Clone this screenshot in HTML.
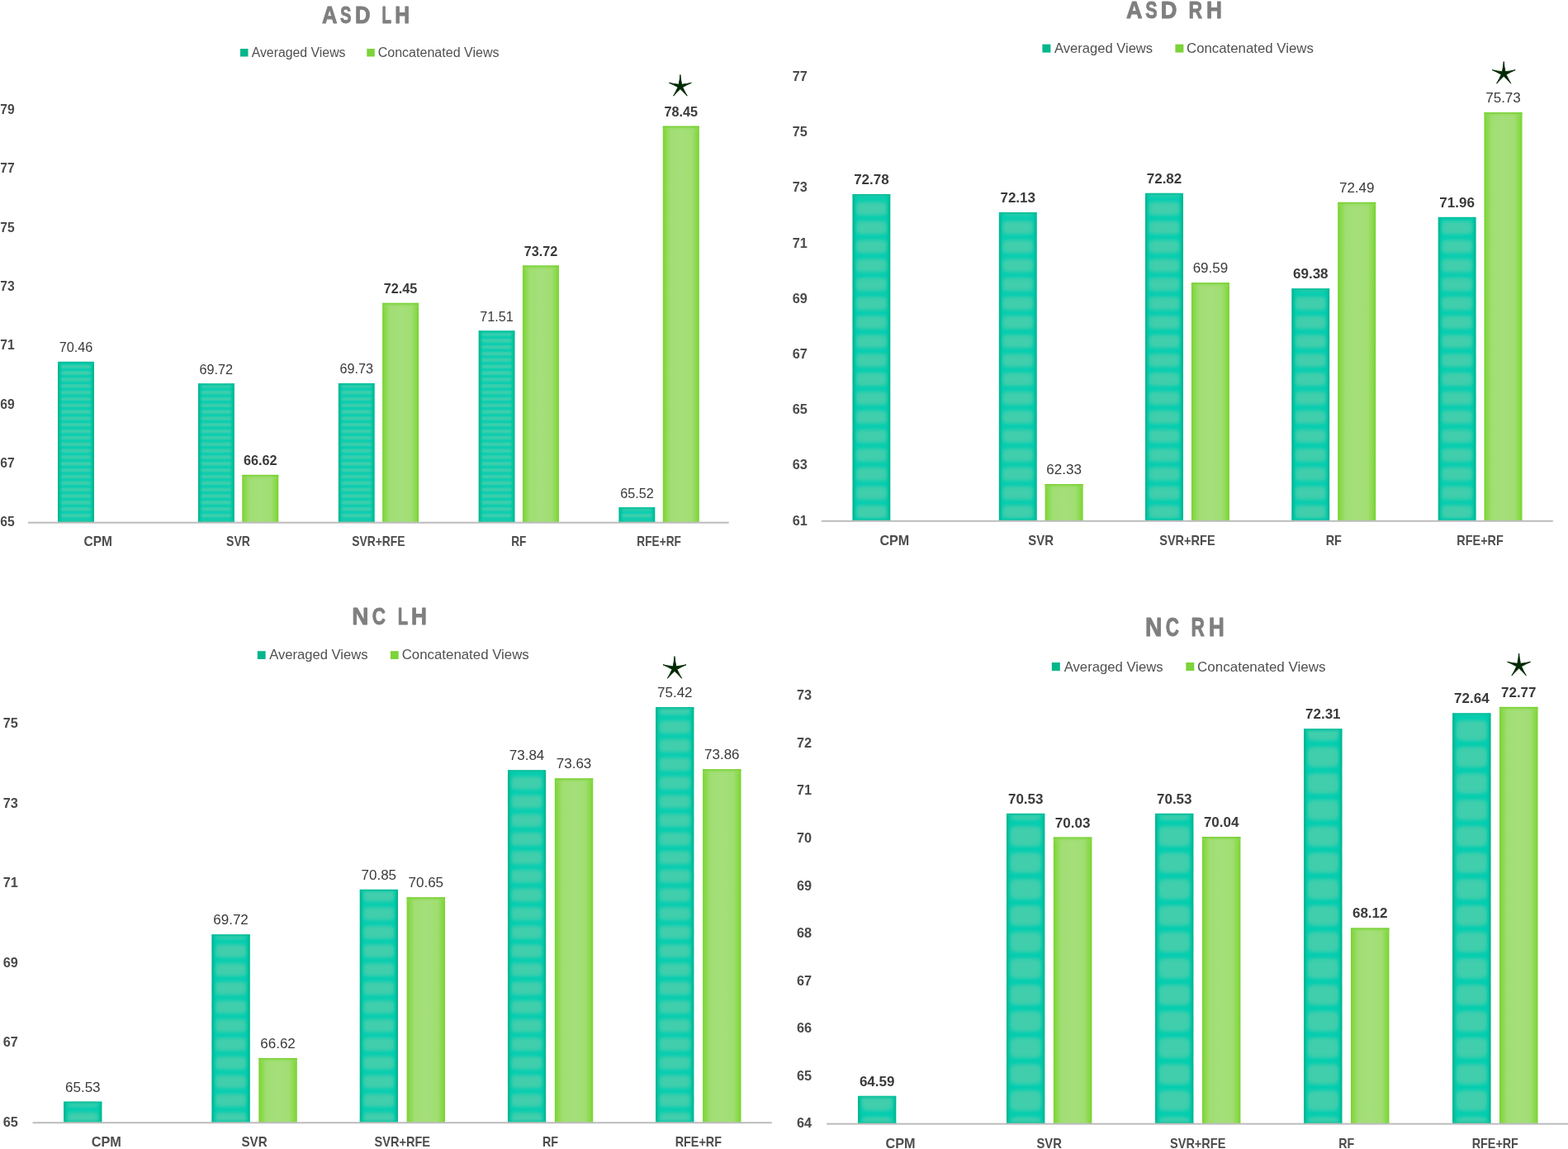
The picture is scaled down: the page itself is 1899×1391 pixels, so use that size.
<!DOCTYPE html>
<html><head><meta charset="utf-8"><title>Charts</title>
<style>
html,body{margin:0;padding:0;background:#fff;}
svg{display:block;}
text{font-family:"Liberation Sans", sans-serif;}
</style></head>
<body>
<svg width="1899" height="1391" viewBox="0 0 1899 1391">
<defs>
<linearGradient id="tedge" x1="0" y1="0" x2="1" y2="0">
 <stop offset="0" stop-color="#00b08a" stop-opacity="1"/>
 <stop offset="0.035" stop-color="#00b891" stop-opacity="0.9"/>
 <stop offset="0.08" stop-color="#00c3a2" stop-opacity="0.5"/>
 <stop offset="0.14" stop-color="#00cdb0" stop-opacity="0"/>
 <stop offset="0.86" stop-color="#00cdb0" stop-opacity="0"/>
 <stop offset="0.92" stop-color="#00c3a2" stop-opacity="0.5"/>
 <stop offset="0.965" stop-color="#00b891" stop-opacity="0.9"/>
 <stop offset="1" stop-color="#00b08a" stop-opacity="1"/>
</linearGradient>
<linearGradient id="tedgev" x1="0" y1="0" x2="0" y2="1">
 <stop offset="0" stop-color="#00b48e" stop-opacity="0.95"/>
 <stop offset="0.4" stop-color="#00c2a0" stop-opacity="0.5"/>
 <stop offset="1" stop-color="#00cdb0" stop-opacity="0"/>
</linearGradient>
<linearGradient id="tedgeb" x1="0" y1="1" x2="0" y2="0">
 <stop offset="0" stop-color="#00b48e" stop-opacity="0.9"/>
 <stop offset="0.4" stop-color="#00c2a0" stop-opacity="0.45"/>
 <stop offset="1" stop-color="#00cdb0" stop-opacity="0"/>
</linearGradient>
<linearGradient id="gfill" x1="0" y1="0" x2="1" y2="0">
 <stop offset="0" stop-color="#76d22e"/>
 <stop offset="0.06" stop-color="#86d845"/>
 <stop offset="0.2" stop-color="#a0de72"/>
 <stop offset="0.5" stop-color="#a5df7b"/>
 <stop offset="0.8" stop-color="#a0de72"/>
 <stop offset="0.94" stop-color="#86d845"/>
 <stop offset="1" stop-color="#76d22e"/>
</linearGradient>
<linearGradient id="gedgev" x1="0" y1="0" x2="0" y2="1">
 <stop offset="0" stop-color="#6ccc20" stop-opacity="0.9"/>
 <stop offset="0.4" stop-color="#8ad84c" stop-opacity="0.5"/>
 <stop offset="1" stop-color="#a4df79" stop-opacity="0"/>
</linearGradient>
<filter id="bl_c1" x="-20%" y="-20%" width="140%" height="140%"><feGaussianBlur stdDeviation="1.6 0.95"/></filter>
<clipPath id="cb_c1_0"><rect x="70" y="437.83" width="44" height="194.87"/></clipPath>
<clipPath id="cb_c1_1"><rect x="239.85" y="464.24" width="44" height="168.46"/></clipPath>
<clipPath id="cb_c1_2"><rect x="409.7" y="463.89" width="44" height="168.81"/></clipPath>
<clipPath id="cb_c1_3"><rect x="579.55" y="400.36" width="44" height="232.34"/></clipPath>
<clipPath id="cb_c1_4"><rect x="749.4" y="614.14" width="44" height="18.56"/></clipPath>
<filter id="bl_c2" x="-20%" y="-20%" width="140%" height="140%"><feGaussianBlur stdDeviation="3 1.9"/></filter>
<clipPath id="cb_c2_0"><rect x="1032.4" y="235.11" width="46" height="395.69"/></clipPath>
<clipPath id="cb_c2_1"><rect x="1209.7" y="256.94" width="46" height="373.86"/></clipPath>
<clipPath id="cb_c2_2"><rect x="1387" y="233.77" width="46" height="397.03"/></clipPath>
<clipPath id="cb_c2_3"><rect x="1564.3" y="349.32" width="46" height="281.48"/></clipPath>
<clipPath id="cb_c2_4"><rect x="1741.6" y="262.65" width="46" height="368.15"/></clipPath>
<filter id="bl_c3" x="-20%" y="-20%" width="140%" height="140%"><feGaussianBlur stdDeviation="3 1.9"/></filter>
<clipPath id="cb_c3_0"><rect x="77.1" y="1333.6" width="46.4" height="25.6"/></clipPath>
<clipPath id="cb_c3_1"><rect x="256.35" y="1131.22" width="46.4" height="227.98"/></clipPath>
<clipPath id="cb_c3_2"><rect x="435.6" y="1076.65" width="46.4" height="282.55"/></clipPath>
<clipPath id="cb_c3_3"><rect x="614.85" y="932.23" width="46.4" height="426.97"/></clipPath>
<clipPath id="cb_c3_4"><rect x="794.1" y="855.91" width="46.4" height="503.29"/></clipPath>
<filter id="bl_c4" x="-20%" y="-20%" width="140%" height="140%"><feGaussianBlur stdDeviation="3.2 2.2"/></filter>
<clipPath id="cb_c4_0"><rect x="1038.9" y="1326.65" width="46.5" height="33.95"/></clipPath>
<clipPath id="cb_c4_1"><rect x="1218.95" y="984.8" width="46.5" height="375.8"/></clipPath>
<clipPath id="cb_c4_2"><rect x="1399" y="984.8" width="46.5" height="375.8"/></clipPath>
<clipPath id="cb_c4_3"><rect x="1579.05" y="882.36" width="46.5" height="478.24"/></clipPath>
<clipPath id="cb_c4_4"><rect x="1759.1" y="863.37" width="46.5" height="497.23"/></clipPath></defs>
<rect x="0" y="0" width="1899" height="1391" fill="#ffffff"/>
<text transform="translate(389.97,28.4) scale(0.8816,1)" font-size="28.91" font-weight="bold" fill="#7f7f7f" stroke="#7f7f7f" stroke-width="0.9" stroke-linejoin="round">A</text>
<text transform="translate(412.12,28.4) scale(0.6986,1)" font-size="28.91" font-weight="bold" fill="#7f7f7f" stroke="#7f7f7f" stroke-width="0.9" stroke-linejoin="round">S</text>
<text transform="translate(429.99,28.4) scale(0.8855,1)" font-size="28.91" font-weight="bold" fill="#7f7f7f" stroke="#7f7f7f" stroke-width="0.9" stroke-linejoin="round">D</text>
<text transform="translate(462.44,28.4) scale(0.6538,1)" font-size="28.91" font-weight="bold" fill="#7f7f7f" stroke="#7f7f7f" stroke-width="0.9" stroke-linejoin="round">L</text>
<text transform="translate(478.15,28.4) scale(0.8531,1)" font-size="28.91" font-weight="bold" fill="#7f7f7f" stroke="#7f7f7f" stroke-width="0.9" stroke-linejoin="round">H</text>
<rect x="291" y="59" width="9.5" height="9.5" fill="#05b68c"/>
<rect x="444.3" y="59" width="9.5" height="9.5" fill="#7cd33a"/>
<text x="304.7" y="68.6" font-size="16" fill="#505050" textLength="113.8" lengthAdjust="spacingAndGlyphs">Averaged Views</text>
<text x="457.7" y="68.6" font-size="16" fill="#505050" textLength="146.8" lengthAdjust="spacingAndGlyphs">Concatenated Views</text>
<text x="17.7" y="637.4" text-anchor="end" font-size="15.7" font-weight="bold" fill="#4a4a4a">65</text>
<text x="17.7" y="566.02" text-anchor="end" font-size="15.7" font-weight="bold" fill="#4a4a4a">67</text>
<text x="17.7" y="494.64" text-anchor="end" font-size="15.7" font-weight="bold" fill="#4a4a4a">69</text>
<text x="17.7" y="423.26" text-anchor="end" font-size="15.7" font-weight="bold" fill="#4a4a4a">71</text>
<text x="17.7" y="351.88" text-anchor="end" font-size="15.7" font-weight="bold" fill="#4a4a4a">73</text>
<text x="17.7" y="280.5" text-anchor="end" font-size="15.7" font-weight="bold" fill="#4a4a4a">75</text>
<text x="17.7" y="209.12" text-anchor="end" font-size="15.7" font-weight="bold" fill="#4a4a4a">77</text>
<text x="17.7" y="137.74" text-anchor="end" font-size="15.7" font-weight="bold" fill="#4a4a4a">79</text>
<text x="118.7" y="660.6" text-anchor="middle" font-size="15.7" font-weight="bold" fill="#4d4d4d" textLength="34.5" lengthAdjust="spacingAndGlyphs">CPM</text>
<g clip-path="url(#cb_c1_0)"><rect x="70" y="437.83" width="44" height="194.87" fill="#00cdb0"/><g filter="url(#bl_c1)" fill="#41ceac"><rect x="72.3" y="433.62" width="39.4" height="4.6" rx="1.93"/><rect x="72.3" y="441.46" width="39.4" height="4.6" rx="1.93"/><rect x="72.3" y="449.3" width="39.4" height="4.6" rx="1.93"/><rect x="72.3" y="457.14" width="39.4" height="4.6" rx="1.93"/><rect x="72.3" y="464.98" width="39.4" height="4.6" rx="1.93"/><rect x="72.3" y="472.82" width="39.4" height="4.6" rx="1.93"/><rect x="72.3" y="480.66" width="39.4" height="4.6" rx="1.93"/><rect x="72.3" y="488.5" width="39.4" height="4.6" rx="1.93"/><rect x="72.3" y="496.34" width="39.4" height="4.6" rx="1.93"/><rect x="72.3" y="504.18" width="39.4" height="4.6" rx="1.93"/><rect x="72.3" y="512.02" width="39.4" height="4.6" rx="1.93"/><rect x="72.3" y="519.86" width="39.4" height="4.6" rx="1.93"/><rect x="72.3" y="527.7" width="39.4" height="4.6" rx="1.93"/><rect x="72.3" y="535.54" width="39.4" height="4.6" rx="1.93"/><rect x="72.3" y="543.38" width="39.4" height="4.6" rx="1.93"/><rect x="72.3" y="551.22" width="39.4" height="4.6" rx="1.93"/><rect x="72.3" y="559.06" width="39.4" height="4.6" rx="1.93"/><rect x="72.3" y="566.9" width="39.4" height="4.6" rx="1.93"/><rect x="72.3" y="574.74" width="39.4" height="4.6" rx="1.93"/><rect x="72.3" y="582.58" width="39.4" height="4.6" rx="1.93"/><rect x="72.3" y="590.42" width="39.4" height="4.6" rx="1.93"/><rect x="72.3" y="598.26" width="39.4" height="4.6" rx="1.93"/><rect x="72.3" y="606.1" width="39.4" height="4.6" rx="1.93"/><rect x="72.3" y="613.94" width="39.4" height="4.6" rx="1.93"/><rect x="72.3" y="621.78" width="39.4" height="4.6" rx="1.93"/><rect x="72.3" y="629.62" width="39.4" height="4.6" rx="1.93"/></g><rect x="70" y="437.83" width="44" height="194.87" fill="url(#tedge)"/><rect x="70" y="437.83" width="44" height="5" fill="url(#tedgev)"/><rect x="70" y="627.7" width="44" height="5" fill="url(#tedgeb)"/></g>
<text x="92" y="426.43" text-anchor="middle" font-size="16.2" fill="#3a3a3a">70.46</text>
<text x="288.55" y="660.6" text-anchor="middle" font-size="15.7" font-weight="bold" fill="#4d4d4d" textLength="28.9" lengthAdjust="spacingAndGlyphs">SVR</text>
<g clip-path="url(#cb_c1_1)"><rect x="239.85" y="464.24" width="44" height="168.46" fill="#00cdb0"/><g filter="url(#bl_c1)" fill="#41ceac"><rect x="242.15" y="464.98" width="39.4" height="4.6" rx="1.93"/><rect x="242.15" y="472.82" width="39.4" height="4.6" rx="1.93"/><rect x="242.15" y="480.66" width="39.4" height="4.6" rx="1.93"/><rect x="242.15" y="488.5" width="39.4" height="4.6" rx="1.93"/><rect x="242.15" y="496.34" width="39.4" height="4.6" rx="1.93"/><rect x="242.15" y="504.18" width="39.4" height="4.6" rx="1.93"/><rect x="242.15" y="512.02" width="39.4" height="4.6" rx="1.93"/><rect x="242.15" y="519.86" width="39.4" height="4.6" rx="1.93"/><rect x="242.15" y="527.7" width="39.4" height="4.6" rx="1.93"/><rect x="242.15" y="535.54" width="39.4" height="4.6" rx="1.93"/><rect x="242.15" y="543.38" width="39.4" height="4.6" rx="1.93"/><rect x="242.15" y="551.22" width="39.4" height="4.6" rx="1.93"/><rect x="242.15" y="559.06" width="39.4" height="4.6" rx="1.93"/><rect x="242.15" y="566.9" width="39.4" height="4.6" rx="1.93"/><rect x="242.15" y="574.74" width="39.4" height="4.6" rx="1.93"/><rect x="242.15" y="582.58" width="39.4" height="4.6" rx="1.93"/><rect x="242.15" y="590.42" width="39.4" height="4.6" rx="1.93"/><rect x="242.15" y="598.26" width="39.4" height="4.6" rx="1.93"/><rect x="242.15" y="606.1" width="39.4" height="4.6" rx="1.93"/><rect x="242.15" y="613.94" width="39.4" height="4.6" rx="1.93"/><rect x="242.15" y="621.78" width="39.4" height="4.6" rx="1.93"/><rect x="242.15" y="629.62" width="39.4" height="4.6" rx="1.93"/></g><rect x="239.85" y="464.24" width="44" height="168.46" fill="url(#tedge)"/><rect x="239.85" y="464.24" width="44" height="5" fill="url(#tedgev)"/><rect x="239.85" y="627.7" width="44" height="5" fill="url(#tedgeb)"/></g>
<text x="261.85" y="452.84" text-anchor="middle" font-size="16.2" fill="#3a3a3a">69.72</text>
<g><rect x="293.25" y="574.88" width="44" height="57.82" fill="url(#gfill)"/><rect x="293.25" y="574.88" width="44" height="6" fill="url(#gedgev)"/></g>
<text x="315.25" y="563.48" text-anchor="middle" font-size="16.2" font-weight="bold" fill="#3a3a3a">66.62</text>
<text x="458.4" y="660.6" text-anchor="middle" font-size="15.7" font-weight="bold" fill="#4d4d4d" textLength="64.3" lengthAdjust="spacingAndGlyphs">SVR+RFE</text>
<g clip-path="url(#cb_c1_2)"><rect x="409.7" y="463.89" width="44" height="168.81" fill="#00cdb0"/><g filter="url(#bl_c1)" fill="#41ceac"><rect x="412" y="464.98" width="39.4" height="4.6" rx="1.93"/><rect x="412" y="472.82" width="39.4" height="4.6" rx="1.93"/><rect x="412" y="480.66" width="39.4" height="4.6" rx="1.93"/><rect x="412" y="488.5" width="39.4" height="4.6" rx="1.93"/><rect x="412" y="496.34" width="39.4" height="4.6" rx="1.93"/><rect x="412" y="504.18" width="39.4" height="4.6" rx="1.93"/><rect x="412" y="512.02" width="39.4" height="4.6" rx="1.93"/><rect x="412" y="519.86" width="39.4" height="4.6" rx="1.93"/><rect x="412" y="527.7" width="39.4" height="4.6" rx="1.93"/><rect x="412" y="535.54" width="39.4" height="4.6" rx="1.93"/><rect x="412" y="543.38" width="39.4" height="4.6" rx="1.93"/><rect x="412" y="551.22" width="39.4" height="4.6" rx="1.93"/><rect x="412" y="559.06" width="39.4" height="4.6" rx="1.93"/><rect x="412" y="566.9" width="39.4" height="4.6" rx="1.93"/><rect x="412" y="574.74" width="39.4" height="4.6" rx="1.93"/><rect x="412" y="582.58" width="39.4" height="4.6" rx="1.93"/><rect x="412" y="590.42" width="39.4" height="4.6" rx="1.93"/><rect x="412" y="598.26" width="39.4" height="4.6" rx="1.93"/><rect x="412" y="606.1" width="39.4" height="4.6" rx="1.93"/><rect x="412" y="613.94" width="39.4" height="4.6" rx="1.93"/><rect x="412" y="621.78" width="39.4" height="4.6" rx="1.93"/><rect x="412" y="629.62" width="39.4" height="4.6" rx="1.93"/></g><rect x="409.7" y="463.89" width="44" height="168.81" fill="url(#tedge)"/><rect x="409.7" y="463.89" width="44" height="5" fill="url(#tedgev)"/><rect x="409.7" y="627.7" width="44" height="5" fill="url(#tedgeb)"/></g>
<text x="431.7" y="452.49" text-anchor="middle" font-size="16.2" fill="#3a3a3a">69.73</text>
<g><rect x="463.1" y="366.81" width="44" height="265.89" fill="url(#gfill)"/><rect x="463.1" y="366.81" width="44" height="6" fill="url(#gedgev)"/></g>
<text x="485.1" y="355.41" text-anchor="middle" font-size="16.2" font-weight="bold" fill="#3a3a3a">72.45</text>
<text x="628.25" y="660.6" text-anchor="middle" font-size="15.7" font-weight="bold" fill="#4d4d4d" textLength="18.2" lengthAdjust="spacingAndGlyphs">RF</text>
<g clip-path="url(#cb_c1_3)"><rect x="579.55" y="400.36" width="44" height="232.34" fill="#00cdb0"/><g filter="url(#bl_c1)" fill="#41ceac"><rect x="581.85" y="394.42" width="39.4" height="4.6" rx="1.93"/><rect x="581.85" y="402.26" width="39.4" height="4.6" rx="1.93"/><rect x="581.85" y="410.1" width="39.4" height="4.6" rx="1.93"/><rect x="581.85" y="417.94" width="39.4" height="4.6" rx="1.93"/><rect x="581.85" y="425.78" width="39.4" height="4.6" rx="1.93"/><rect x="581.85" y="433.62" width="39.4" height="4.6" rx="1.93"/><rect x="581.85" y="441.46" width="39.4" height="4.6" rx="1.93"/><rect x="581.85" y="449.3" width="39.4" height="4.6" rx="1.93"/><rect x="581.85" y="457.14" width="39.4" height="4.6" rx="1.93"/><rect x="581.85" y="464.98" width="39.4" height="4.6" rx="1.93"/><rect x="581.85" y="472.82" width="39.4" height="4.6" rx="1.93"/><rect x="581.85" y="480.66" width="39.4" height="4.6" rx="1.93"/><rect x="581.85" y="488.5" width="39.4" height="4.6" rx="1.93"/><rect x="581.85" y="496.34" width="39.4" height="4.6" rx="1.93"/><rect x="581.85" y="504.18" width="39.4" height="4.6" rx="1.93"/><rect x="581.85" y="512.02" width="39.4" height="4.6" rx="1.93"/><rect x="581.85" y="519.86" width="39.4" height="4.6" rx="1.93"/><rect x="581.85" y="527.7" width="39.4" height="4.6" rx="1.93"/><rect x="581.85" y="535.54" width="39.4" height="4.6" rx="1.93"/><rect x="581.85" y="543.38" width="39.4" height="4.6" rx="1.93"/><rect x="581.85" y="551.22" width="39.4" height="4.6" rx="1.93"/><rect x="581.85" y="559.06" width="39.4" height="4.6" rx="1.93"/><rect x="581.85" y="566.9" width="39.4" height="4.6" rx="1.93"/><rect x="581.85" y="574.74" width="39.4" height="4.6" rx="1.93"/><rect x="581.85" y="582.58" width="39.4" height="4.6" rx="1.93"/><rect x="581.85" y="590.42" width="39.4" height="4.6" rx="1.93"/><rect x="581.85" y="598.26" width="39.4" height="4.6" rx="1.93"/><rect x="581.85" y="606.1" width="39.4" height="4.6" rx="1.93"/><rect x="581.85" y="613.94" width="39.4" height="4.6" rx="1.93"/><rect x="581.85" y="621.78" width="39.4" height="4.6" rx="1.93"/><rect x="581.85" y="629.62" width="39.4" height="4.6" rx="1.93"/></g><rect x="579.55" y="400.36" width="44" height="232.34" fill="url(#tedge)"/><rect x="579.55" y="400.36" width="44" height="5" fill="url(#tedgev)"/><rect x="579.55" y="627.7" width="44" height="5" fill="url(#tedgeb)"/></g>
<text x="601.55" y="388.96" text-anchor="middle" font-size="16.2" fill="#3a3a3a">71.51</text>
<g><rect x="632.95" y="321.48" width="44" height="311.22" fill="url(#gfill)"/><rect x="632.95" y="321.48" width="44" height="6" fill="url(#gedgev)"/></g>
<text x="654.95" y="310.08" text-anchor="middle" font-size="16.2" font-weight="bold" fill="#3a3a3a">73.72</text>
<text x="798.1" y="660.6" text-anchor="middle" font-size="15.7" font-weight="bold" fill="#4d4d4d" textLength="53.5" lengthAdjust="spacingAndGlyphs">RFE+RF</text>
<g clip-path="url(#cb_c1_4)"><rect x="749.4" y="614.14" width="44" height="18.56" fill="#00cdb0"/><g filter="url(#bl_c1)" fill="#41ceac"><rect x="751.7" y="613.94" width="39.4" height="4.6" rx="1.93"/><rect x="751.7" y="621.78" width="39.4" height="4.6" rx="1.93"/><rect x="751.7" y="629.62" width="39.4" height="4.6" rx="1.93"/></g><rect x="749.4" y="614.14" width="44" height="18.56" fill="url(#tedge)"/><rect x="749.4" y="614.14" width="44" height="5" fill="url(#tedgev)"/><rect x="749.4" y="627.7" width="44" height="5" fill="url(#tedgeb)"/></g>
<text x="771.4" y="602.74" text-anchor="middle" font-size="16.2" fill="#3a3a3a">65.52</text>
<g><rect x="802.8" y="152.67" width="44" height="480.03" fill="url(#gfill)"/><rect x="802.8" y="152.67" width="44" height="6" fill="url(#gedgev)"/></g>
<text x="824.8" y="141.27" text-anchor="middle" font-size="16.2" font-weight="bold" fill="#3a3a3a">78.45</text>
<rect x="34" y="631.7" width="848.7" height="2" fill="#bcbcbc"/>
<path d="M822.15,102.24Q823.33,96.34 823.9,90.45Q824.47,96.34 825.65,102.24Q831.62,101.54 837.4,100.26Q831.98,102.62 826.74,105.57Q829.24,111.03 832.25,116.14Q828.32,111.7 823.9,107.63Q819.48,111.7 815.55,116.14Q818.56,111.03 821.06,105.57Q815.82,102.62 810.4,100.26Q816.18,101.54 822.15,102.24Z" fill="#012902" stroke="#012902" stroke-width="0.9" stroke-linejoin="round"/>
<text transform="translate(1363.93,21.5) scale(0.8971,1)" font-size="30.07" font-weight="bold" fill="#7f7f7f" stroke="#7f7f7f" stroke-width="0.9" stroke-linejoin="round">A</text>
<text transform="translate(1387.28,21.5) scale(0.7160,1)" font-size="30.07" font-weight="bold" fill="#7f7f7f" stroke="#7f7f7f" stroke-width="0.9" stroke-linejoin="round">S</text>
<text transform="translate(1405.78,21.5) scale(0.9055,1)" font-size="30.07" font-weight="bold" fill="#7f7f7f" stroke="#7f7f7f" stroke-width="0.9" stroke-linejoin="round">D</text>
<text transform="translate(1439.56,21.5) scale(0.7648,1)" font-size="30.07" font-weight="bold" fill="#7f7f7f" stroke="#7f7f7f" stroke-width="0.9" stroke-linejoin="round">R</text>
<text transform="translate(1461.05,21.5) scale(0.8711,1)" font-size="30.07" font-weight="bold" fill="#7f7f7f" stroke="#7f7f7f" stroke-width="0.9" stroke-linejoin="round">H</text>
<rect x="1262.4" y="53.6" width="10" height="10" fill="#05b68c"/>
<rect x="1423.4" y="53.6" width="10" height="10" fill="#7cd33a"/>
<text x="1277.1" y="63.6" font-size="16.6" fill="#505050" textLength="119" lengthAdjust="spacingAndGlyphs">Averaged Views</text>
<text x="1437" y="63.6" font-size="16.6" fill="#505050" textLength="153.9" lengthAdjust="spacingAndGlyphs">Concatenated Views</text>
<text x="977.8" y="635.5" text-anchor="end" font-size="16.3" font-weight="bold" fill="#4a4a4a">61</text>
<text x="977.8" y="568.32" text-anchor="end" font-size="16.3" font-weight="bold" fill="#4a4a4a">63</text>
<text x="977.8" y="501.14" text-anchor="end" font-size="16.3" font-weight="bold" fill="#4a4a4a">65</text>
<text x="977.8" y="433.96" text-anchor="end" font-size="16.3" font-weight="bold" fill="#4a4a4a">67</text>
<text x="977.8" y="366.78" text-anchor="end" font-size="16.3" font-weight="bold" fill="#4a4a4a">69</text>
<text x="977.8" y="299.6" text-anchor="end" font-size="16.3" font-weight="bold" fill="#4a4a4a">71</text>
<text x="977.8" y="232.42" text-anchor="end" font-size="16.3" font-weight="bold" fill="#4a4a4a">73</text>
<text x="977.8" y="165.24" text-anchor="end" font-size="16.3" font-weight="bold" fill="#4a4a4a">75</text>
<text x="977.8" y="98.06" text-anchor="end" font-size="16.3" font-weight="bold" fill="#4a4a4a">77</text>
<text x="1083.35" y="659.9" text-anchor="middle" font-size="16.4" font-weight="bold" fill="#4d4d4d" textLength="35.9" lengthAdjust="spacingAndGlyphs">CPM</text>
<g clip-path="url(#cb_c2_0)"><rect x="1032.4" y="235.11" width="46" height="395.69" fill="#00cdb0"/><g filter="url(#bl_c2)" fill="#41ceac"><rect x="1034.8" y="221.38" width="41.2" height="16.6" rx="6.97"/><rect x="1034.8" y="244.32" width="41.2" height="16.6" rx="6.97"/><rect x="1034.8" y="267.27" width="41.2" height="16.6" rx="6.97"/><rect x="1034.8" y="290.22" width="41.2" height="16.6" rx="6.97"/><rect x="1034.8" y="313.17" width="41.2" height="16.6" rx="6.97"/><rect x="1034.8" y="336.12" width="41.2" height="16.6" rx="6.97"/><rect x="1034.8" y="359.07" width="41.2" height="16.6" rx="6.97"/><rect x="1034.8" y="382.02" width="41.2" height="16.6" rx="6.97"/><rect x="1034.8" y="404.97" width="41.2" height="16.6" rx="6.97"/><rect x="1034.8" y="427.93" width="41.2" height="16.6" rx="6.97"/><rect x="1034.8" y="450.87" width="41.2" height="16.6" rx="6.97"/><rect x="1034.8" y="473.82" width="41.2" height="16.6" rx="6.97"/><rect x="1034.8" y="496.77" width="41.2" height="16.6" rx="6.97"/><rect x="1034.8" y="519.73" width="41.2" height="16.6" rx="6.97"/><rect x="1034.8" y="542.68" width="41.2" height="16.6" rx="6.97"/><rect x="1034.8" y="565.62" width="41.2" height="16.6" rx="6.97"/><rect x="1034.8" y="588.58" width="41.2" height="16.6" rx="6.97"/><rect x="1034.8" y="611.52" width="41.2" height="16.6" rx="6.97"/></g><rect x="1032.4" y="235.11" width="46" height="395.69" fill="url(#tedge)"/><rect x="1032.4" y="235.11" width="46" height="5" fill="url(#tedgev)"/><rect x="1032.4" y="625.8" width="46" height="5" fill="url(#tedgeb)"/></g>
<text x="1055.4" y="223.21" text-anchor="middle" font-size="17" font-weight="bold" fill="#3a3a3a">72.78</text>
<text x="1260.65" y="659.9" text-anchor="middle" font-size="16.4" font-weight="bold" fill="#4d4d4d" textLength="30.6" lengthAdjust="spacingAndGlyphs">SVR</text>
<g clip-path="url(#cb_c2_1)"><rect x="1209.7" y="256.94" width="46" height="373.86" fill="#00cdb0"/><g filter="url(#bl_c2)" fill="#41ceac"><rect x="1212.1" y="244.32" width="41.2" height="16.6" rx="6.97"/><rect x="1212.1" y="267.27" width="41.2" height="16.6" rx="6.97"/><rect x="1212.1" y="290.22" width="41.2" height="16.6" rx="6.97"/><rect x="1212.1" y="313.17" width="41.2" height="16.6" rx="6.97"/><rect x="1212.1" y="336.12" width="41.2" height="16.6" rx="6.97"/><rect x="1212.1" y="359.07" width="41.2" height="16.6" rx="6.97"/><rect x="1212.1" y="382.02" width="41.2" height="16.6" rx="6.97"/><rect x="1212.1" y="404.97" width="41.2" height="16.6" rx="6.97"/><rect x="1212.1" y="427.93" width="41.2" height="16.6" rx="6.97"/><rect x="1212.1" y="450.87" width="41.2" height="16.6" rx="6.97"/><rect x="1212.1" y="473.82" width="41.2" height="16.6" rx="6.97"/><rect x="1212.1" y="496.77" width="41.2" height="16.6" rx="6.97"/><rect x="1212.1" y="519.73" width="41.2" height="16.6" rx="6.97"/><rect x="1212.1" y="542.68" width="41.2" height="16.6" rx="6.97"/><rect x="1212.1" y="565.62" width="41.2" height="16.6" rx="6.97"/><rect x="1212.1" y="588.58" width="41.2" height="16.6" rx="6.97"/><rect x="1212.1" y="611.52" width="41.2" height="16.6" rx="6.97"/></g><rect x="1209.7" y="256.94" width="46" height="373.86" fill="url(#tedge)"/><rect x="1209.7" y="256.94" width="46" height="5" fill="url(#tedgev)"/><rect x="1209.7" y="625.8" width="46" height="5" fill="url(#tedgeb)"/></g>
<text x="1232.7" y="245.04" text-anchor="middle" font-size="17" font-weight="bold" fill="#3a3a3a">72.13</text>
<g><rect x="1265.6" y="586.13" width="46" height="44.67" fill="url(#gfill)"/><rect x="1265.6" y="586.13" width="46" height="6" fill="url(#gedgev)"/></g>
<text x="1288.6" y="574.23" text-anchor="middle" font-size="17" fill="#3a3a3a">62.33</text>
<text x="1437.95" y="659.9" text-anchor="middle" font-size="16.4" font-weight="bold" fill="#4d4d4d" textLength="67.4" lengthAdjust="spacingAndGlyphs">SVR+RFE</text>
<g clip-path="url(#cb_c2_2)"><rect x="1387" y="233.77" width="46" height="397.03" fill="#00cdb0"/><g filter="url(#bl_c2)" fill="#41ceac"><rect x="1389.4" y="221.38" width="41.2" height="16.6" rx="6.97"/><rect x="1389.4" y="244.32" width="41.2" height="16.6" rx="6.97"/><rect x="1389.4" y="267.27" width="41.2" height="16.6" rx="6.97"/><rect x="1389.4" y="290.22" width="41.2" height="16.6" rx="6.97"/><rect x="1389.4" y="313.17" width="41.2" height="16.6" rx="6.97"/><rect x="1389.4" y="336.12" width="41.2" height="16.6" rx="6.97"/><rect x="1389.4" y="359.07" width="41.2" height="16.6" rx="6.97"/><rect x="1389.4" y="382.02" width="41.2" height="16.6" rx="6.97"/><rect x="1389.4" y="404.97" width="41.2" height="16.6" rx="6.97"/><rect x="1389.4" y="427.93" width="41.2" height="16.6" rx="6.97"/><rect x="1389.4" y="450.87" width="41.2" height="16.6" rx="6.97"/><rect x="1389.4" y="473.82" width="41.2" height="16.6" rx="6.97"/><rect x="1389.4" y="496.77" width="41.2" height="16.6" rx="6.97"/><rect x="1389.4" y="519.73" width="41.2" height="16.6" rx="6.97"/><rect x="1389.4" y="542.68" width="41.2" height="16.6" rx="6.97"/><rect x="1389.4" y="565.62" width="41.2" height="16.6" rx="6.97"/><rect x="1389.4" y="588.58" width="41.2" height="16.6" rx="6.97"/><rect x="1389.4" y="611.52" width="41.2" height="16.6" rx="6.97"/></g><rect x="1387" y="233.77" width="46" height="397.03" fill="url(#tedge)"/><rect x="1387" y="233.77" width="46" height="5" fill="url(#tedgev)"/><rect x="1387" y="625.8" width="46" height="5" fill="url(#tedgeb)"/></g>
<text x="1410" y="221.87" text-anchor="middle" font-size="17" font-weight="bold" fill="#3a3a3a">72.82</text>
<g><rect x="1442.9" y="342.26" width="46" height="288.54" fill="url(#gfill)"/><rect x="1442.9" y="342.26" width="46" height="6" fill="url(#gedgev)"/></g>
<text x="1465.9" y="330.36" text-anchor="middle" font-size="17" fill="#3a3a3a">69.59</text>
<text x="1615.25" y="659.9" text-anchor="middle" font-size="16.4" font-weight="bold" fill="#4d4d4d" textLength="19.2" lengthAdjust="spacingAndGlyphs">RF</text>
<g clip-path="url(#cb_c2_3)"><rect x="1564.3" y="349.32" width="46" height="281.48" fill="#00cdb0"/><g filter="url(#bl_c2)" fill="#41ceac"><rect x="1566.7" y="336.12" width="41.2" height="16.6" rx="6.97"/><rect x="1566.7" y="359.07" width="41.2" height="16.6" rx="6.97"/><rect x="1566.7" y="382.02" width="41.2" height="16.6" rx="6.97"/><rect x="1566.7" y="404.97" width="41.2" height="16.6" rx="6.97"/><rect x="1566.7" y="427.93" width="41.2" height="16.6" rx="6.97"/><rect x="1566.7" y="450.87" width="41.2" height="16.6" rx="6.97"/><rect x="1566.7" y="473.82" width="41.2" height="16.6" rx="6.97"/><rect x="1566.7" y="496.77" width="41.2" height="16.6" rx="6.97"/><rect x="1566.7" y="519.73" width="41.2" height="16.6" rx="6.97"/><rect x="1566.7" y="542.68" width="41.2" height="16.6" rx="6.97"/><rect x="1566.7" y="565.62" width="41.2" height="16.6" rx="6.97"/><rect x="1566.7" y="588.58" width="41.2" height="16.6" rx="6.97"/><rect x="1566.7" y="611.52" width="41.2" height="16.6" rx="6.97"/></g><rect x="1564.3" y="349.32" width="46" height="281.48" fill="url(#tedge)"/><rect x="1564.3" y="349.32" width="46" height="5" fill="url(#tedgev)"/><rect x="1564.3" y="625.8" width="46" height="5" fill="url(#tedgeb)"/></g>
<text x="1587.3" y="337.42" text-anchor="middle" font-size="17" font-weight="bold" fill="#3a3a3a">69.38</text>
<g><rect x="1620.2" y="244.85" width="46" height="385.95" fill="url(#gfill)"/><rect x="1620.2" y="244.85" width="46" height="6" fill="url(#gedgev)"/></g>
<text x="1643.2" y="232.95" text-anchor="middle" font-size="17" fill="#3a3a3a">72.49</text>
<text x="1792.55" y="659.9" text-anchor="middle" font-size="16.4" font-weight="bold" fill="#4d4d4d" textLength="56.4" lengthAdjust="spacingAndGlyphs">RFE+RF</text>
<g clip-path="url(#cb_c2_4)"><rect x="1741.6" y="262.65" width="46" height="368.15" fill="#00cdb0"/><g filter="url(#bl_c2)" fill="#41ceac"><rect x="1744" y="244.32" width="41.2" height="16.6" rx="6.97"/><rect x="1744" y="267.27" width="41.2" height="16.6" rx="6.97"/><rect x="1744" y="290.22" width="41.2" height="16.6" rx="6.97"/><rect x="1744" y="313.17" width="41.2" height="16.6" rx="6.97"/><rect x="1744" y="336.12" width="41.2" height="16.6" rx="6.97"/><rect x="1744" y="359.07" width="41.2" height="16.6" rx="6.97"/><rect x="1744" y="382.02" width="41.2" height="16.6" rx="6.97"/><rect x="1744" y="404.97" width="41.2" height="16.6" rx="6.97"/><rect x="1744" y="427.93" width="41.2" height="16.6" rx="6.97"/><rect x="1744" y="450.87" width="41.2" height="16.6" rx="6.97"/><rect x="1744" y="473.82" width="41.2" height="16.6" rx="6.97"/><rect x="1744" y="496.77" width="41.2" height="16.6" rx="6.97"/><rect x="1744" y="519.73" width="41.2" height="16.6" rx="6.97"/><rect x="1744" y="542.68" width="41.2" height="16.6" rx="6.97"/><rect x="1744" y="565.62" width="41.2" height="16.6" rx="6.97"/><rect x="1744" y="588.58" width="41.2" height="16.6" rx="6.97"/><rect x="1744" y="611.52" width="41.2" height="16.6" rx="6.97"/></g><rect x="1741.6" y="262.65" width="46" height="368.15" fill="url(#tedge)"/><rect x="1741.6" y="262.65" width="46" height="5" fill="url(#tedgev)"/><rect x="1741.6" y="625.8" width="46" height="5" fill="url(#tedgeb)"/></g>
<text x="1764.6" y="250.75" text-anchor="middle" font-size="17" font-weight="bold" fill="#3a3a3a">71.96</text>
<g><rect x="1797.5" y="136.02" width="46" height="494.78" fill="url(#gfill)"/><rect x="1797.5" y="136.02" width="46" height="6" fill="url(#gedgev)"/></g>
<text x="1820.5" y="124.12" text-anchor="middle" font-size="17" fill="#3a3a3a">75.73</text>
<rect x="994.9" y="629.8" width="885.9" height="2" fill="#bcbcbc"/>
<path d="M1819.39,86.75Q1820.61,80.65 1821.2,74.55Q1821.79,80.65 1823.01,86.75Q1829.19,86.03 1835.18,84.7Q1829.56,87.15 1824.14,90.2Q1826.73,95.85 1829.84,101.14Q1825.78,96.55 1821.2,92.33Q1816.62,96.55 1812.56,101.14Q1815.67,95.85 1818.26,90.2Q1812.84,87.15 1807.22,84.7Q1813.21,86.03 1819.39,86.75Z" fill="#012902" stroke="#012902" stroke-width="0.9" stroke-linejoin="round"/>
<text transform="translate(426.13,755.8) scale(0.9232,1)" font-size="30.22" font-weight="bold" fill="#7f7f7f" stroke="#7f7f7f" stroke-width="0.9" stroke-linejoin="round">N</text>
<text transform="translate(450.78,755.8) scale(0.7440,1)" font-size="30.22" font-weight="bold" fill="#7f7f7f" stroke="#7f7f7f" stroke-width="0.9" stroke-linejoin="round">C</text>
<text transform="translate(481.64,755.8) scale(0.6706,1)" font-size="30.22" font-weight="bold" fill="#7f7f7f" stroke="#7f7f7f" stroke-width="0.9" stroke-linejoin="round">L</text>
<text transform="translate(497.95,755.8) scale(0.8669,1)" font-size="30.22" font-weight="bold" fill="#7f7f7f" stroke="#7f7f7f" stroke-width="0.9" stroke-linejoin="round">H</text>
<rect x="311.8" y="788.2" width="9.8" height="9.8" fill="#05b68c"/>
<rect x="472.9" y="788.2" width="9.8" height="9.8" fill="#7cd33a"/>
<text x="326.2" y="797.7" font-size="16.6" fill="#505050" textLength="119.3" lengthAdjust="spacingAndGlyphs">Averaged Views</text>
<text x="486.7" y="797.7" font-size="16.6" fill="#505050" textLength="154.1" lengthAdjust="spacingAndGlyphs">Concatenated Views</text>
<text x="21.9" y="1363.9" text-anchor="end" font-size="16.3" font-weight="bold" fill="#4a4a4a">65</text>
<text x="21.9" y="1267.3" text-anchor="end" font-size="16.3" font-weight="bold" fill="#4a4a4a">67</text>
<text x="21.9" y="1170.7" text-anchor="end" font-size="16.3" font-weight="bold" fill="#4a4a4a">69</text>
<text x="21.9" y="1074.1" text-anchor="end" font-size="16.3" font-weight="bold" fill="#4a4a4a">71</text>
<text x="21.9" y="977.5" text-anchor="end" font-size="16.3" font-weight="bold" fill="#4a4a4a">73</text>
<text x="21.9" y="880.9" text-anchor="end" font-size="16.3" font-weight="bold" fill="#4a4a4a">75</text>
<text x="128.8" y="1387.8" text-anchor="middle" font-size="16.4" font-weight="bold" fill="#4d4d4d" textLength="36.2" lengthAdjust="spacingAndGlyphs">CPM</text>
<g clip-path="url(#cb_c3_0)"><rect x="77.1" y="1333.6" width="46.4" height="25.6" fill="#00cdb0"/><g filter="url(#bl_c3)" fill="#41ceac"><rect x="79.5" y="1323.9" width="41.6" height="16.4" rx="6.89"/><rect x="79.5" y="1346.5" width="41.6" height="16.4" rx="6.89"/></g><rect x="77.1" y="1333.6" width="46.4" height="25.6" fill="url(#tedge)"/><rect x="77.1" y="1333.6" width="46.4" height="5" fill="url(#tedgev)"/><rect x="77.1" y="1354.2" width="46.4" height="5" fill="url(#tedgeb)"/></g>
<text x="100.3" y="1321.5" text-anchor="middle" font-size="17" fill="#3a3a3a">65.53</text>
<text x="308.05" y="1387.8" text-anchor="middle" font-size="16.4" font-weight="bold" fill="#4d4d4d" textLength="31.2" lengthAdjust="spacingAndGlyphs">SVR</text>
<g clip-path="url(#cb_c3_1)"><rect x="256.35" y="1131.22" width="46.4" height="227.98" fill="#00cdb0"/><g filter="url(#bl_c3)" fill="#41ceac"><rect x="258.75" y="1120.5" width="41.6" height="16.4" rx="6.89"/><rect x="258.75" y="1143.1" width="41.6" height="16.4" rx="6.89"/><rect x="258.75" y="1165.7" width="41.6" height="16.4" rx="6.89"/><rect x="258.75" y="1188.3" width="41.6" height="16.4" rx="6.89"/><rect x="258.75" y="1210.9" width="41.6" height="16.4" rx="6.89"/><rect x="258.75" y="1233.5" width="41.6" height="16.4" rx="6.89"/><rect x="258.75" y="1256.1" width="41.6" height="16.4" rx="6.89"/><rect x="258.75" y="1278.7" width="41.6" height="16.4" rx="6.89"/><rect x="258.75" y="1301.3" width="41.6" height="16.4" rx="6.89"/><rect x="258.75" y="1323.9" width="41.6" height="16.4" rx="6.89"/><rect x="258.75" y="1346.5" width="41.6" height="16.4" rx="6.89"/></g><rect x="256.35" y="1131.22" width="46.4" height="227.98" fill="url(#tedge)"/><rect x="256.35" y="1131.22" width="46.4" height="5" fill="url(#tedgev)"/><rect x="256.35" y="1354.2" width="46.4" height="5" fill="url(#tedgeb)"/></g>
<text x="279.55" y="1119.12" text-anchor="middle" font-size="17" fill="#3a3a3a">69.72</text>
<g><rect x="313.35" y="1280.95" width="46.4" height="78.25" fill="url(#gfill)"/><rect x="313.35" y="1280.95" width="46.4" height="6" fill="url(#gedgev)"/></g>
<text x="336.55" y="1268.85" text-anchor="middle" font-size="17" fill="#3a3a3a">66.62</text>
<text x="487.3" y="1387.8" text-anchor="middle" font-size="16.4" font-weight="bold" fill="#4d4d4d" textLength="67.4" lengthAdjust="spacingAndGlyphs">SVR+RFE</text>
<g clip-path="url(#cb_c3_2)"><rect x="435.6" y="1076.65" width="46.4" height="282.55" fill="#00cdb0"/><g filter="url(#bl_c3)" fill="#41ceac"><rect x="438" y="1075.3" width="41.6" height="16.4" rx="6.89"/><rect x="438" y="1097.9" width="41.6" height="16.4" rx="6.89"/><rect x="438" y="1120.5" width="41.6" height="16.4" rx="6.89"/><rect x="438" y="1143.1" width="41.6" height="16.4" rx="6.89"/><rect x="438" y="1165.7" width="41.6" height="16.4" rx="6.89"/><rect x="438" y="1188.3" width="41.6" height="16.4" rx="6.89"/><rect x="438" y="1210.9" width="41.6" height="16.4" rx="6.89"/><rect x="438" y="1233.5" width="41.6" height="16.4" rx="6.89"/><rect x="438" y="1256.1" width="41.6" height="16.4" rx="6.89"/><rect x="438" y="1278.7" width="41.6" height="16.4" rx="6.89"/><rect x="438" y="1301.3" width="41.6" height="16.4" rx="6.89"/><rect x="438" y="1323.9" width="41.6" height="16.4" rx="6.89"/><rect x="438" y="1346.5" width="41.6" height="16.4" rx="6.89"/></g><rect x="435.6" y="1076.65" width="46.4" height="282.55" fill="url(#tedge)"/><rect x="435.6" y="1076.65" width="46.4" height="5" fill="url(#tedgev)"/><rect x="435.6" y="1354.2" width="46.4" height="5" fill="url(#tedgeb)"/></g>
<text x="458.8" y="1064.55" text-anchor="middle" font-size="17" fill="#3a3a3a">70.85</text>
<g><rect x="492.6" y="1086.3" width="46.4" height="272.9" fill="url(#gfill)"/><rect x="492.6" y="1086.3" width="46.4" height="6" fill="url(#gedgev)"/></g>
<text x="515.8" y="1074.2" text-anchor="middle" font-size="17" fill="#3a3a3a">70.65</text>
<text x="666.55" y="1387.8" text-anchor="middle" font-size="16.4" font-weight="bold" fill="#4d4d4d" textLength="19.1" lengthAdjust="spacingAndGlyphs">RF</text>
<g clip-path="url(#cb_c3_3)"><rect x="614.85" y="932.23" width="46.4" height="426.97" fill="#00cdb0"/><g filter="url(#bl_c3)" fill="#41ceac"><rect x="617.25" y="917.1" width="41.6" height="16.4" rx="6.89"/><rect x="617.25" y="939.7" width="41.6" height="16.4" rx="6.89"/><rect x="617.25" y="962.3" width="41.6" height="16.4" rx="6.89"/><rect x="617.25" y="984.9" width="41.6" height="16.4" rx="6.89"/><rect x="617.25" y="1007.5" width="41.6" height="16.4" rx="6.89"/><rect x="617.25" y="1030.1" width="41.6" height="16.4" rx="6.89"/><rect x="617.25" y="1052.7" width="41.6" height="16.4" rx="6.89"/><rect x="617.25" y="1075.3" width="41.6" height="16.4" rx="6.89"/><rect x="617.25" y="1097.9" width="41.6" height="16.4" rx="6.89"/><rect x="617.25" y="1120.5" width="41.6" height="16.4" rx="6.89"/><rect x="617.25" y="1143.1" width="41.6" height="16.4" rx="6.89"/><rect x="617.25" y="1165.7" width="41.6" height="16.4" rx="6.89"/><rect x="617.25" y="1188.3" width="41.6" height="16.4" rx="6.89"/><rect x="617.25" y="1210.9" width="41.6" height="16.4" rx="6.89"/><rect x="617.25" y="1233.5" width="41.6" height="16.4" rx="6.89"/><rect x="617.25" y="1256.1" width="41.6" height="16.4" rx="6.89"/><rect x="617.25" y="1278.7" width="41.6" height="16.4" rx="6.89"/><rect x="617.25" y="1301.3" width="41.6" height="16.4" rx="6.89"/><rect x="617.25" y="1323.9" width="41.6" height="16.4" rx="6.89"/><rect x="617.25" y="1346.5" width="41.6" height="16.4" rx="6.89"/></g><rect x="614.85" y="932.23" width="46.4" height="426.97" fill="url(#tedge)"/><rect x="614.85" y="932.23" width="46.4" height="5" fill="url(#tedgev)"/><rect x="614.85" y="1354.2" width="46.4" height="5" fill="url(#tedgeb)"/></g>
<text x="638.05" y="920.13" text-anchor="middle" font-size="17" fill="#3a3a3a">73.84</text>
<g><rect x="671.85" y="942.37" width="46.4" height="416.83" fill="url(#gfill)"/><rect x="671.85" y="942.37" width="46.4" height="6" fill="url(#gedgev)"/></g>
<text x="695.05" y="930.27" text-anchor="middle" font-size="17" fill="#3a3a3a">73.63</text>
<text x="845.8" y="1387.8" text-anchor="middle" font-size="16.4" font-weight="bold" fill="#4d4d4d" textLength="56.3" lengthAdjust="spacingAndGlyphs">RFE+RF</text>
<g clip-path="url(#cb_c3_4)"><rect x="794.1" y="855.91" width="46.4" height="503.29" fill="#00cdb0"/><g filter="url(#bl_c3)" fill="#41ceac"><rect x="796.5" y="849.3" width="41.6" height="16.4" rx="6.89"/><rect x="796.5" y="871.9" width="41.6" height="16.4" rx="6.89"/><rect x="796.5" y="894.5" width="41.6" height="16.4" rx="6.89"/><rect x="796.5" y="917.1" width="41.6" height="16.4" rx="6.89"/><rect x="796.5" y="939.7" width="41.6" height="16.4" rx="6.89"/><rect x="796.5" y="962.3" width="41.6" height="16.4" rx="6.89"/><rect x="796.5" y="984.9" width="41.6" height="16.4" rx="6.89"/><rect x="796.5" y="1007.5" width="41.6" height="16.4" rx="6.89"/><rect x="796.5" y="1030.1" width="41.6" height="16.4" rx="6.89"/><rect x="796.5" y="1052.7" width="41.6" height="16.4" rx="6.89"/><rect x="796.5" y="1075.3" width="41.6" height="16.4" rx="6.89"/><rect x="796.5" y="1097.9" width="41.6" height="16.4" rx="6.89"/><rect x="796.5" y="1120.5" width="41.6" height="16.4" rx="6.89"/><rect x="796.5" y="1143.1" width="41.6" height="16.4" rx="6.89"/><rect x="796.5" y="1165.7" width="41.6" height="16.4" rx="6.89"/><rect x="796.5" y="1188.3" width="41.6" height="16.4" rx="6.89"/><rect x="796.5" y="1210.9" width="41.6" height="16.4" rx="6.89"/><rect x="796.5" y="1233.5" width="41.6" height="16.4" rx="6.89"/><rect x="796.5" y="1256.1" width="41.6" height="16.4" rx="6.89"/><rect x="796.5" y="1278.7" width="41.6" height="16.4" rx="6.89"/><rect x="796.5" y="1301.3" width="41.6" height="16.4" rx="6.89"/><rect x="796.5" y="1323.9" width="41.6" height="16.4" rx="6.89"/><rect x="796.5" y="1346.5" width="41.6" height="16.4" rx="6.89"/></g><rect x="794.1" y="855.91" width="46.4" height="503.29" fill="url(#tedge)"/><rect x="794.1" y="855.91" width="46.4" height="5" fill="url(#tedgev)"/><rect x="794.1" y="1354.2" width="46.4" height="5" fill="url(#tedgeb)"/></g>
<text x="817.3" y="843.81" text-anchor="middle" font-size="17" fill="#3a3a3a">75.42</text>
<g><rect x="851.1" y="931.26" width="46.4" height="427.94" fill="url(#gfill)"/><rect x="851.1" y="931.26" width="46.4" height="6" fill="url(#gedgev)"/></g>
<text x="874.3" y="919.16" text-anchor="middle" font-size="17" fill="#3a3a3a">73.86</text>
<rect x="39.6" y="1358.2" width="895.2" height="2" fill="#bcbcbc"/>
<path d="M815.18,806.8Q816.41,800.67 817,794.55Q817.59,800.67 818.82,806.8Q825.02,806.07 831.03,804.74Q825.39,807.2 819.95,810.26Q822.55,815.93 825.67,821.24Q821.59,816.63 817,812.4Q812.41,816.63 808.33,821.24Q811.45,815.93 814.05,810.26Q808.61,807.2 802.97,804.74Q808.98,806.07 815.18,806.8Z" fill="#012902" stroke="#012902" stroke-width="0.9" stroke-linejoin="round"/>
<text transform="translate(1386.91,769.9) scale(0.9211,1)" font-size="30.65" font-weight="bold" fill="#7f7f7f" stroke="#7f7f7f" stroke-width="0.9" stroke-linejoin="round">N</text>
<text transform="translate(1411.78,769.9) scale(0.7335,1)" font-size="30.65" font-weight="bold" fill="#7f7f7f" stroke="#7f7f7f" stroke-width="0.9" stroke-linejoin="round">C</text>
<text transform="translate(1442.48,769.9) scale(0.7400,1)" font-size="30.65" font-weight="bold" fill="#7f7f7f" stroke="#7f7f7f" stroke-width="0.9" stroke-linejoin="round">R</text>
<text transform="translate(1463.96,769.9) scale(0.8490,1)" font-size="30.65" font-weight="bold" fill="#7f7f7f" stroke="#7f7f7f" stroke-width="0.9" stroke-linejoin="round">H</text>
<rect x="1273.8" y="802" width="10" height="10" fill="#05b68c"/>
<rect x="1436.3" y="802" width="10" height="10" fill="#7cd33a"/>
<text x="1288.7" y="812.5" font-size="16.6" fill="#505050" textLength="120" lengthAdjust="spacingAndGlyphs">Averaged Views</text>
<text x="1450.1" y="812.5" font-size="16.6" fill="#505050" textLength="155.4" lengthAdjust="spacingAndGlyphs">Concatenated Views</text>
<text x="983.1" y="1365.3" text-anchor="end" font-size="16.3" font-weight="bold" fill="#4a4a4a">64</text>
<text x="983.1" y="1307.75" text-anchor="end" font-size="16.3" font-weight="bold" fill="#4a4a4a">65</text>
<text x="983.1" y="1250.2" text-anchor="end" font-size="16.3" font-weight="bold" fill="#4a4a4a">66</text>
<text x="983.1" y="1192.65" text-anchor="end" font-size="16.3" font-weight="bold" fill="#4a4a4a">67</text>
<text x="983.1" y="1135.1" text-anchor="end" font-size="16.3" font-weight="bold" fill="#4a4a4a">68</text>
<text x="983.1" y="1077.55" text-anchor="end" font-size="16.3" font-weight="bold" fill="#4a4a4a">69</text>
<text x="983.1" y="1020" text-anchor="end" font-size="16.3" font-weight="bold" fill="#4a4a4a">70</text>
<text x="983.1" y="962.45" text-anchor="end" font-size="16.3" font-weight="bold" fill="#4a4a4a">71</text>
<text x="983.1" y="904.9" text-anchor="end" font-size="16.3" font-weight="bold" fill="#4a4a4a">72</text>
<text x="983.1" y="847.35" text-anchor="end" font-size="16.3" font-weight="bold" fill="#4a4a4a">73</text>
<text x="1090.6" y="1390" text-anchor="middle" font-size="16.4" font-weight="bold" fill="#4d4d4d" textLength="36.1" lengthAdjust="spacingAndGlyphs">CPM</text>
<g clip-path="url(#cb_c4_0)"><rect x="1038.9" y="1326.65" width="46.5" height="33.95" fill="#00cdb0"/><g filter="url(#bl_c4)" fill="#41ceac"><rect x="1041.3" y="1319.9" width="41.7" height="25" rx="9"/><rect x="1041.3" y="1351.9" width="41.7" height="25" rx="9"/></g><rect x="1038.9" y="1326.65" width="46.5" height="33.95" fill="url(#tedge)"/><rect x="1038.9" y="1326.65" width="46.5" height="5" fill="url(#tedgev)"/><rect x="1038.9" y="1355.6" width="46.5" height="5" fill="url(#tedgeb)"/></g>
<text x="1062.15" y="1314.65" text-anchor="middle" font-size="17" font-weight="bold" fill="#3a3a3a">64.59</text>
<text x="1270.65" y="1390" text-anchor="middle" font-size="16.4" font-weight="bold" fill="#4d4d4d" textLength="30.3" lengthAdjust="spacingAndGlyphs">SVR</text>
<g clip-path="url(#cb_c4_1)"><rect x="1218.95" y="984.8" width="46.5" height="375.8" fill="#00cdb0"/><g filter="url(#bl_c4)" fill="#41ceac"><rect x="1221.35" y="967.9" width="41.7" height="25" rx="9"/><rect x="1221.35" y="999.9" width="41.7" height="25" rx="9"/><rect x="1221.35" y="1031.9" width="41.7" height="25" rx="9"/><rect x="1221.35" y="1063.9" width="41.7" height="25" rx="9"/><rect x="1221.35" y="1095.9" width="41.7" height="25" rx="9"/><rect x="1221.35" y="1127.9" width="41.7" height="25" rx="9"/><rect x="1221.35" y="1159.9" width="41.7" height="25" rx="9"/><rect x="1221.35" y="1191.9" width="41.7" height="25" rx="9"/><rect x="1221.35" y="1223.9" width="41.7" height="25" rx="9"/><rect x="1221.35" y="1255.9" width="41.7" height="25" rx="9"/><rect x="1221.35" y="1287.9" width="41.7" height="25" rx="9"/><rect x="1221.35" y="1319.9" width="41.7" height="25" rx="9"/><rect x="1221.35" y="1351.9" width="41.7" height="25" rx="9"/></g><rect x="1218.95" y="984.8" width="46.5" height="375.8" fill="url(#tedge)"/><rect x="1218.95" y="984.8" width="46.5" height="5" fill="url(#tedgev)"/><rect x="1218.95" y="1355.6" width="46.5" height="5" fill="url(#tedgeb)"/></g>
<text x="1242.2" y="972.8" text-anchor="middle" font-size="17" font-weight="bold" fill="#3a3a3a">70.53</text>
<g><rect x="1275.85" y="1013.57" width="46.5" height="347.03" fill="url(#gfill)"/><rect x="1275.85" y="1013.57" width="46.5" height="6" fill="url(#gedgev)"/></g>
<text x="1299.1" y="1001.57" text-anchor="middle" font-size="17" font-weight="bold" fill="#3a3a3a">70.03</text>
<text x="1450.7" y="1390" text-anchor="middle" font-size="16.4" font-weight="bold" fill="#4d4d4d" textLength="67.3" lengthAdjust="spacingAndGlyphs">SVR+RFE</text>
<g clip-path="url(#cb_c4_2)"><rect x="1399" y="984.8" width="46.5" height="375.8" fill="#00cdb0"/><g filter="url(#bl_c4)" fill="#41ceac"><rect x="1401.4" y="967.9" width="41.7" height="25" rx="9"/><rect x="1401.4" y="999.9" width="41.7" height="25" rx="9"/><rect x="1401.4" y="1031.9" width="41.7" height="25" rx="9"/><rect x="1401.4" y="1063.9" width="41.7" height="25" rx="9"/><rect x="1401.4" y="1095.9" width="41.7" height="25" rx="9"/><rect x="1401.4" y="1127.9" width="41.7" height="25" rx="9"/><rect x="1401.4" y="1159.9" width="41.7" height="25" rx="9"/><rect x="1401.4" y="1191.9" width="41.7" height="25" rx="9"/><rect x="1401.4" y="1223.9" width="41.7" height="25" rx="9"/><rect x="1401.4" y="1255.9" width="41.7" height="25" rx="9"/><rect x="1401.4" y="1287.9" width="41.7" height="25" rx="9"/><rect x="1401.4" y="1319.9" width="41.7" height="25" rx="9"/><rect x="1401.4" y="1351.9" width="41.7" height="25" rx="9"/></g><rect x="1399" y="984.8" width="46.5" height="375.8" fill="url(#tedge)"/><rect x="1399" y="984.8" width="46.5" height="5" fill="url(#tedgev)"/><rect x="1399" y="1355.6" width="46.5" height="5" fill="url(#tedgeb)"/></g>
<text x="1422.25" y="972.8" text-anchor="middle" font-size="17" font-weight="bold" fill="#3a3a3a">70.53</text>
<g><rect x="1455.9" y="1013" width="46.5" height="347.6" fill="url(#gfill)"/><rect x="1455.9" y="1013" width="46.5" height="6" fill="url(#gedgev)"/></g>
<text x="1479.15" y="1001" text-anchor="middle" font-size="17" font-weight="bold" fill="#3a3a3a">70.04</text>
<text x="1630.75" y="1390" text-anchor="middle" font-size="16.4" font-weight="bold" fill="#4d4d4d" textLength="19" lengthAdjust="spacingAndGlyphs">RF</text>
<g clip-path="url(#cb_c4_3)"><rect x="1579.05" y="882.36" width="46.5" height="478.24" fill="#00cdb0"/><g filter="url(#bl_c4)" fill="#41ceac"><rect x="1581.45" y="871.9" width="41.7" height="25" rx="9"/><rect x="1581.45" y="903.9" width="41.7" height="25" rx="9"/><rect x="1581.45" y="935.9" width="41.7" height="25" rx="9"/><rect x="1581.45" y="967.9" width="41.7" height="25" rx="9"/><rect x="1581.45" y="999.9" width="41.7" height="25" rx="9"/><rect x="1581.45" y="1031.9" width="41.7" height="25" rx="9"/><rect x="1581.45" y="1063.9" width="41.7" height="25" rx="9"/><rect x="1581.45" y="1095.9" width="41.7" height="25" rx="9"/><rect x="1581.45" y="1127.9" width="41.7" height="25" rx="9"/><rect x="1581.45" y="1159.9" width="41.7" height="25" rx="9"/><rect x="1581.45" y="1191.9" width="41.7" height="25" rx="9"/><rect x="1581.45" y="1223.9" width="41.7" height="25" rx="9"/><rect x="1581.45" y="1255.9" width="41.7" height="25" rx="9"/><rect x="1581.45" y="1287.9" width="41.7" height="25" rx="9"/><rect x="1581.45" y="1319.9" width="41.7" height="25" rx="9"/><rect x="1581.45" y="1351.9" width="41.7" height="25" rx="9"/></g><rect x="1579.05" y="882.36" width="46.5" height="478.24" fill="url(#tedge)"/><rect x="1579.05" y="882.36" width="46.5" height="5" fill="url(#tedgev)"/><rect x="1579.05" y="1355.6" width="46.5" height="5" fill="url(#tedgeb)"/></g>
<text x="1602.3" y="870.36" text-anchor="middle" font-size="17" font-weight="bold" fill="#3a3a3a">72.31</text>
<g><rect x="1635.95" y="1123.49" width="46.5" height="237.11" fill="url(#gfill)"/><rect x="1635.95" y="1123.49" width="46.5" height="6" fill="url(#gedgev)"/></g>
<text x="1659.2" y="1111.49" text-anchor="middle" font-size="17" font-weight="bold" fill="#3a3a3a">68.12</text>
<text x="1810.8" y="1390" text-anchor="middle" font-size="16.4" font-weight="bold" fill="#4d4d4d" textLength="56.2" lengthAdjust="spacingAndGlyphs">RFE+RF</text>
<g clip-path="url(#cb_c4_4)"><rect x="1759.1" y="863.37" width="46.5" height="497.23" fill="#00cdb0"/><g filter="url(#bl_c4)" fill="#41ceac"><rect x="1761.5" y="839.9" width="41.7" height="25" rx="9"/><rect x="1761.5" y="871.9" width="41.7" height="25" rx="9"/><rect x="1761.5" y="903.9" width="41.7" height="25" rx="9"/><rect x="1761.5" y="935.9" width="41.7" height="25" rx="9"/><rect x="1761.5" y="967.9" width="41.7" height="25" rx="9"/><rect x="1761.5" y="999.9" width="41.7" height="25" rx="9"/><rect x="1761.5" y="1031.9" width="41.7" height="25" rx="9"/><rect x="1761.5" y="1063.9" width="41.7" height="25" rx="9"/><rect x="1761.5" y="1095.9" width="41.7" height="25" rx="9"/><rect x="1761.5" y="1127.9" width="41.7" height="25" rx="9"/><rect x="1761.5" y="1159.9" width="41.7" height="25" rx="9"/><rect x="1761.5" y="1191.9" width="41.7" height="25" rx="9"/><rect x="1761.5" y="1223.9" width="41.7" height="25" rx="9"/><rect x="1761.5" y="1255.9" width="41.7" height="25" rx="9"/><rect x="1761.5" y="1287.9" width="41.7" height="25" rx="9"/><rect x="1761.5" y="1319.9" width="41.7" height="25" rx="9"/><rect x="1761.5" y="1351.9" width="41.7" height="25" rx="9"/></g><rect x="1759.1" y="863.37" width="46.5" height="497.23" fill="url(#tedge)"/><rect x="1759.1" y="863.37" width="46.5" height="5" fill="url(#tedgev)"/><rect x="1759.1" y="1355.6" width="46.5" height="5" fill="url(#tedgeb)"/></g>
<text x="1782.35" y="851.37" text-anchor="middle" font-size="17" font-weight="bold" fill="#3a3a3a">72.64</text>
<g><rect x="1816" y="855.89" width="46.5" height="504.71" fill="url(#gfill)"/><rect x="1816" y="855.89" width="46.5" height="6" fill="url(#gedgev)"/></g>
<text x="1839.25" y="843.89" text-anchor="middle" font-size="17" font-weight="bold" fill="#3a3a3a">72.77</text>
<rect x="1001.1" y="1359.6" width="897.9" height="2" fill="#bcbcbc"/>
<path d="M1837.77,803.34Q1839.01,797.2 1839.6,791.05Q1840.19,797.2 1841.43,803.34Q1847.65,802.62 1853.68,801.28Q1848.02,803.75 1842.56,806.82Q1845.17,812.51 1848.3,817.84Q1844.21,813.21 1839.6,808.97Q1834.99,813.21 1830.9,817.84Q1834.03,812.51 1836.64,806.82Q1831.18,803.75 1825.52,801.28Q1831.55,802.62 1837.77,803.34Z" fill="#012902" stroke="#012902" stroke-width="0.9" stroke-linejoin="round"/>
</svg>
</body></html>
